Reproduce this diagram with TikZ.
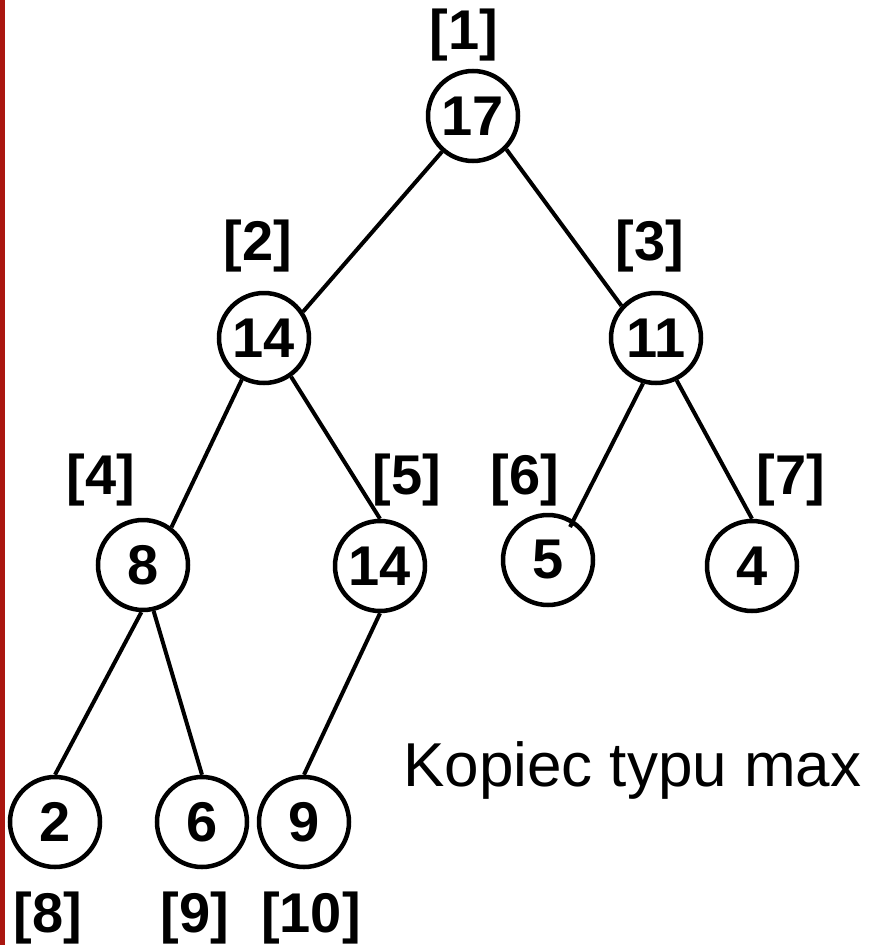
\documentclass[tikz,border=0pt]{standalone}
\usepackage{fontspec}
\setmainfont{Liberation Sans}
\definecolor{barred}{RGB}{170,22,16}
\begin{document}
\begin{tikzpicture}[x=1pt,y=-1pt,
  key/.style={circle,draw,line width=4.5pt,minimum size=90pt,inner sep=0pt,
    font=\fontsize{56}{56}\selectfont\bfseries},
  idx/.style={inner sep=0pt,font=\fontsize{56}{56}\selectfont\bfseries},
  edge/.style={line width=4pt}]
\useasboundingbox (0,0) rectangle (876,945);
% left accent bar
\fill[barred] (0,0) rectangle (5,945);

% heap nodes
\node[key] (n1)  at (473,116) {17};
\node[key] (n2)  at (264,338) {14};
\node[key] (n3)  at (656,338) {11};
\node[key] (n4)  at (143,565) {8};
\node[key] (n5)  at (380,566) {14};
\node[key] (n6)  at (548,560) {5};
\node[key] (n7)  at (752,566) {4};
\node[key] (n8)  at (55,822)  {2};
\node[key] (n9)  at (202,822) {6};
\node[key] (n10) at (304,822) {9};

% array indices
\node[idx] (i1)  at (464,35)  {[1]};
\node[idx] (i2)  at (258,246) {[2]};
\node[idx] (i3)  at (650,246) {[3]};
\node[idx] (i4)  at (101,480) {[4]};
\node[idx] (i5)  at (407,480) {[5]};
\node[idx] (i6)  at (525,480) {[6]};
\node[idx] (i7)  at (791,480) {[7]};
\node[idx] (i8)  at (48,918)  {[8]};
\node[idx] (i9)  at (195,918) {[9]};
\node[idx] (i10) at (311,918) {[10]};

% caption
\node[inner sep=0pt,anchor=base west,font=\fontsize{62}{62}\selectfont]
  (cap) at (403,786) {Kopiec typu max};

% edges
\coordinate (n6in) at ([shift={(22,-33)}]n6.center);
\draw[edge] (n1.229) -- (n2.34);
\draw[edge] (n1.-45) -- (n3.137);
\draw[edge] (n2.242) -- (n4.53);
\draw[edge] (n2.-55) -- (n5.north);
\draw[edge] (n3.254) -- (n6in);
\draw[edge] (n3.-64) -- (n7.north);
\draw[edge] (n4.268) -- (n8.north);
\draw[edge] (n4.-77) -- (n9.north);
\draw[edge] (n5.south) -- (n10.north);
\end{tikzpicture}
\end{document}
